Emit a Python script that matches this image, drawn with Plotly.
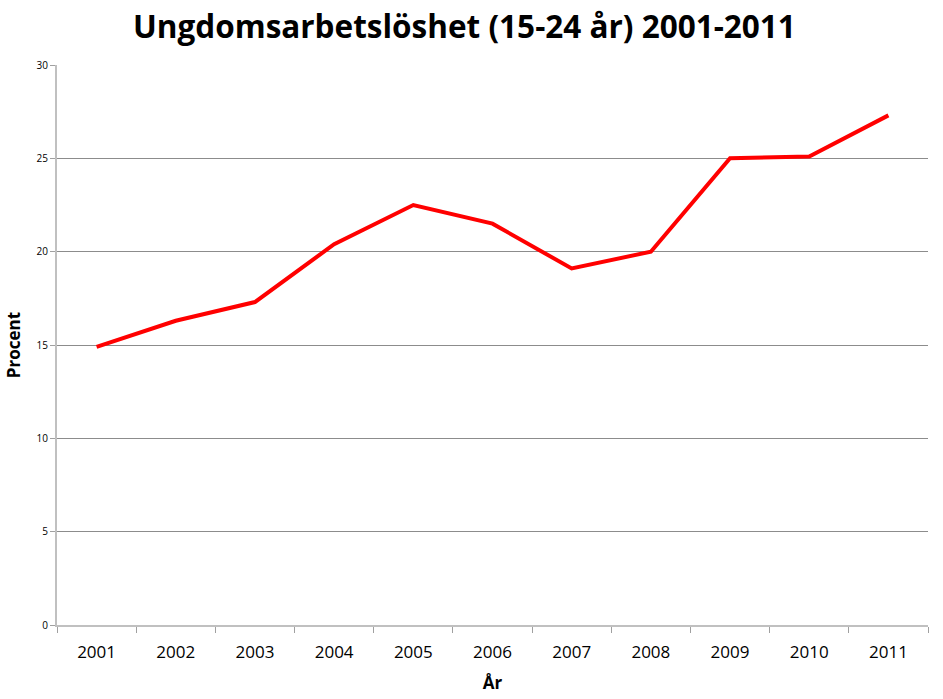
import plotly.graph_objects as go

years = ["2001", "2002", "2003", "2004", "2005", "2006", "2007", "2008", "2009", "2010", "2011"]
procent = [14.9, 16.3, 17.3, 20.4, 22.5, 21.5, 19.1, 20.0, 25.0, 25.1, 27.3]
y_ticks = [0, 5, 10, 15, 20, 25, 30]

fig = go.Figure()
fig.add_trace(go.Scatter(x=years, y=procent, mode="lines",
                         line=dict(color="#ff0000", width=4), showlegend=False))

fig.update_layout(
    width=943, height=699,
    margin=dict(l=57, r=15, t=65, b=74),
    paper_bgcolor="white", plot_bgcolor="white",
    font=dict(family="Open Sans, Liberation Sans, sans-serif", color="black"),
    title=dict(text="<b>Ungdomsarbetslöshet (15-24 år) 2001-2011</b>",
               x=0.4925, xanchor="center", y=0.962, yanchor="middle",
               font=dict(size=31.5, color="black")),
)
fig.update_xaxes(type="category", range=[-0.5, 10.5], tickson="boundaries",
                 ticks="outside", ticklen=6, tickcolor="#a0a0a0", tickwidth=1,
                 showline=True, linecolor="#c0c0c0", linewidth=2,
                 showgrid=False, tickfont=dict(size=17), ticklabelstandoff=11,
                 automargin=False,
                 title=dict(text="<b>År</b>", font=dict(size=17), standoff=15))
fig.update_yaxes(range=[0, 30], tickvals=y_ticks, ticks="outside", ticklen=5,
                 tickcolor="#a0a0a0", showline=True, linecolor="#c0c0c0", linewidth=2,
                 showgrid=True, gridcolor="#8c8c8c", gridwidth=1,
                 zeroline=False, tickfont=dict(size=10), automargin=False,
                 title=dict(text="<b>Procent</b>", font=dict(size=17), standoff=12))

fig.write_html("out.html")
